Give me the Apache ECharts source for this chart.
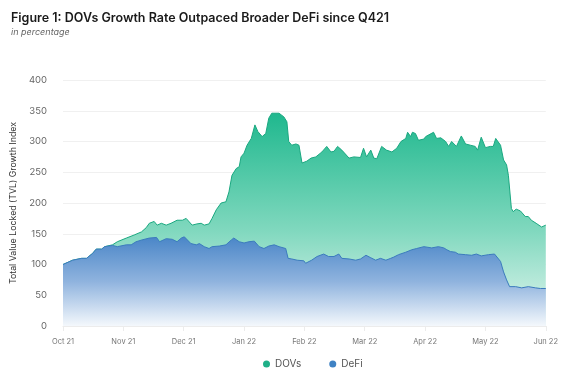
<!DOCTYPE html>
<html>
<head>
<meta charset="utf-8">
<script src="https://cdn.jsdelivr.net/npm/echarts@6/dist/echarts.min.js"></script>
<style>
html,body{margin:0;padding:0;background:#fff;}
#c{width:561px;height:378px;}
</style>
</head>
<body>
<div id="c"></div>
<script>
// x positions are in months since Oct 21 (0 = Oct 21, 8 = Jun 22)
var monthLabels = ['Oct 21','Nov 21','Dec 21','Jan 22','Feb 22','Mar 22','Apr 22','May 22','Jun 22'];
var yTicks = [0,50,100,150,200,250,300,350,400];

var dovs = [
[0,100],[0.16,107],[0.31,110],[0.39,110],[0.49,118],[0.55,125],[0.64,125],[0.69,129],[0.82,132],[0.90,137],
[1.05,143],[1.18,148],[1.30,153],[1.38,160],[1.43,167],[1.51,170],[1.56,164],[1.63,167],[1.71,164],[1.79,167],
[1.89,172],[1.98,172],[2.04,175],[2.14,164],[2.22,166],[2.29,167],[2.34,164],[2.42,166],[2.47,175],[2.54,189],
[2.62,200],[2.70,202],[2.75,218],[2.80,245],[2.87,256],[2.92,259],[2.95,275],[3.00,281],[3.05,294],[3.12,305],
[3.18,327],[3.23,316],[3.30,308],[3.36,313],[3.41,338],[3.46,346],[3.58,346],[3.66,340],[3.71,332],[3.74,300],
[3.79,294],[3.86,296],[3.91,294],[3.94,294],[3.96,265],[4.04,268],[4.11,273],[4.19,275],[4.29,283],[4.37,292],
[4.44,283],[4.49,284],[4.55,292],[4.62,286],[4.74,273],[4.82,275],[4.93,274],[4.98,289],[5.03,275],[5.10,286],
[5.15,273],[5.20,272],[5.28,292],[5.36,286],[5.45,283],[5.53,289],[5.60,300],[5.68,305],[5.71,315],[5.76,308],
[5.79,315],[5.84,313],[5.89,302],[5.98,304],[6.01,308],[6.14,315],[6.19,305],[6.26,306],[6.34,300],[6.39,292],
[6.44,300],[6.52,292],[6.60,309],[6.67,296],[6.75,294],[6.83,292],[6.87,286],[6.93,307],[7.00,290],[7.08,292],
[7.13,292],[7.17,305],[7.25,294],[7.30,270],[7.35,262],[7.38,245],[7.43,191],[7.46,186],[7.51,190],[7.58,187],
[7.61,188],[7.66,178],[7.71,178],[7.76,172],[7.84,167],[7.93,161],[8,164]
];

var defi = [
[0,100],[0.16,107],[0.31,110],[0.39,110],[0.49,118],[0.55,125],[0.64,125],[0.69,129],[0.82,131],[0.90,129],
[1.05,132],[1.13,132],[1.21,137],[1.31,140],[1.43,143],[1.55,144],[1.60,137],[1.71,142],[1.81,141],[1.89,137],
[1.96,143],[2.01,145],[2.04,144],[2.12,134],[2.21,132],[2.26,134],[2.34,129],[2.42,126],[2.47,129],[2.59,130],
[2.70,132],[2.79,140],[2.83,143],[2.92,137],[3.00,135],[3.08,137],[3.17,138],[3.25,129],[3.33,126],[3.41,130],
[3.50,132],[3.58,129],[3.69,126],[3.73,110],[3.79,109],[3.88,107],[3.99,106],[4.02,102],[4.12,107],[4.21,113],
[4.32,117],[4.40,113],[4.49,113],[4.57,117],[4.62,110],[4.74,109],[4.85,107],[4.93,109],[5.02,115],[5.10,111],
[5.18,107],[5.26,110],[5.35,107],[5.43,110],[5.48,112],[5.56,116],[5.68,120],[5.78,124],[5.86,126],[5.98,129],
[6.01,129],[6.11,127],[6.22,129],[6.31,127],[6.36,124],[6.42,121],[6.50,120],[6.55,117],[6.67,116],[6.77,115],
[6.85,117],[6.93,114],[7.05,116],[7.15,117],[7.25,105],[7.30,88],[7.35,75],[7.40,64],[7.50,64],[7.60,62],
[7.71,64],[7.83,62],[7.91,61],[8,61]
];

var FONT = 'Inter, "Noto Sans", sans-serif';
var chart = echarts.init(document.getElementById('c'), null, {renderer:'canvas'});
chart.setOption({
  animation:false,
  backgroundColor:'#fff',
  title:{
    text:'Figure 1: DOVs Growth Rate Outpaced Broader DeFi since Q421',
    subtext:'in percentage',
    left:6, top:7, itemGap:3,
    textStyle:{fontFamily:FONT, fontSize:12.5, fontWeight:600, color:'#1a1a1a'},
    subtextStyle:{fontFamily:FONT, fontSize:9, fontStyle:'italic', color:'#666'}
  },
  legend:{
    bottom:4, left:258, icon:'circle', itemWidth:7, itemHeight:7, itemGap:28,
    textStyle:{fontFamily:FONT, fontSize:10, color:'#555'},
    data:['DOVs','DeFi']
  },
  grid:{left:63, right:14, top:80, bottom:52},
  xAxis:{
    type:'value', min:0, max:8, interval:1,
    axisLine:{show:true, lineStyle:{color:'#ececec'}},
    axisTick:{show:true, length:5, lineStyle:{color:'#ececec'}},
    splitLine:{show:false},
    axisLabel:{fontFamily:FONT, fontSize:7.5, color:'#777', margin:12,
      formatter:function(v){return monthLabels[Math.round(v)];}}
  },
  yAxis:{
    type:'value', min:yTicks[0], max:yTicks[yTicks.length-1], interval:50,
    name:'Total Value Locked (TVL) Growth Index', nameLocation:'middle', nameGap:44,
    nameTextStyle:{fontFamily:FONT, fontSize:8.8, color:'#333'},
    axisLine:{show:false}, axisTick:{show:false},
    splitLine:{lineStyle:{color:'#f0f0f0'}},
    axisLabel:{fontFamily:FONT, fontSize:9.5, color:'#666', margin:16}
  },
  series:[
    {
      name:'DOVs', type:'line', data:dovs, symbol:'none', showSymbol:false,
      itemStyle:{color:'#1fb088'},
      lineStyle:{color:'#1aa880', width:1},
      areaStyle:{opacity:1, color:new echarts.graphic.LinearGradient(0,0,0,1,[
        {offset:0, color:'#1fb88e'},
        {offset:0.55, color:'#80d8be'},
        {offset:1, color:'#e6f7f1'}
      ])},
      z:2
    },
    {
      name:'DeFi', type:'line', data:defi, symbol:'none', showSymbol:false,
      itemStyle:{color:'#3f82c4'},
      lineStyle:{color:'#3b7bbd', width:1},
      areaStyle:{opacity:1, color:new echarts.graphic.LinearGradient(0,0,0,1,[
        {offset:0, color:'#4a86c8'},
        {offset:0.5, color:'#8fb3de'},
        {offset:1, color:'#f4f8fc'}
      ])},
      z:3
    }
  ]
});
</script>
</body>
</html>
